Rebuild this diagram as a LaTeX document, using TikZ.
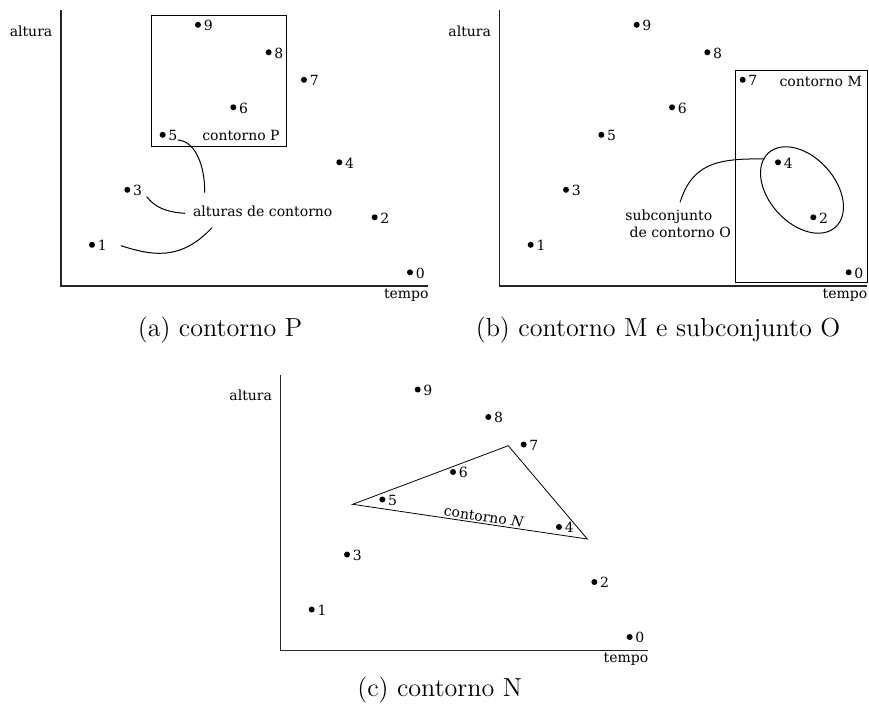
\documentclass[tikz,border=0pt]{standalone}
\usepackage{fontspec}
\newfontfamily\dv{DejaVu Serif}
\newcommand\drawpanel[1]{%
  \draw[axis] (61,10) -- (61,286) -- (428,286);
  \node[txt,anchor=base east] (#1alt) at (52.7,36) {altura};
  \node[txt,anchor=base east] (#1tmp) at (429,298) {tempo};
  \foreach \i/\h in {1/1,2/3,3/5,4/9,5/6,6/8,7/7,8/4,9/2,10/0}{
    \node[dot] (#1p\h) at ({92+(\i-1)*35.33},{272.3-\h*27.5}) {};
    \node[lbl] (#1l\h) at ([xshift=1.0pt,yshift=-0.35pt]#1p\h.east) {\h};
  }%
}
\begin{document}
\begin{tikzpicture}[x=0.5pt,y=-0.5pt,
  dot/.style={circle,fill=black,inner sep=0pt,minimum size=3pt},
  txt/.style={font=\dv\fontsize{7}{8.4}\selectfont,inner sep=0pt},
  lbl/.style={txt,anchor=west},
  captxt/.style={font=\fontsize{13.05}{15}\selectfont,inner sep=0pt,anchor=base},
  axis/.style={line width=0.6pt,draw=black!85},
  frame/.style={line width=0.5pt},
  conn/.style={line width=0.5pt}]
\useasboundingbox (0,0) rectangle (869,709);
% ---------- panel (a)
\begin{scope}
  \drawpanel{a}
  \draw[frame] (151.7,15) rectangle (286.7,146.7);
  \node[txt,anchor=base east] (aP) at (280,140) {contorno P};
  \node[txt,anchor=base west] (aalt2) at (192.7,216.7) {alturas de contorno};
  \coordinate (ac1s) at (177.7,140);
  \coordinate (ac1e) at (204.7,192.7);
  \coordinate (ac2s) at (146.7,196.7);
  \coordinate (ac2e) at (185,213.3);
  \coordinate (ac3s) at (121,245.7);
  \coordinate (ac3e) at (212,227.7);
  \draw[conn] (ac1s) .. controls (195,141) and (205,165) .. (ac1e);
  \draw[conn] (ac2s) .. controls (155,207) and (165,212) .. (ac2e);
  \draw[conn] (ac3s) .. controls (150,255) and (180,262) .. (ac3e);
\end{scope}
% ---------- panel (b)
\begin{scope}[shift={(438.7,0)}]
  \drawpanel{b}
  \draw[frame] (296.3,70.7) rectangle (429,282.3);
  \node[txt,anchor=base east] (bM) at (423.6,86) {contorno M};
  \coordinate (bec) at (363.3,190);
  \draw[frame,rotate around={-48:(bec)}] (bec) ellipse [x radius=50, y radius=33];
  \node[txt,anchor=base west] (bO1) at (186.3,220) {subconjunto};
  \node[txt,anchor=base west] (bO2) at (190.6,237.3) {de contorno O};
  \coordinate (bcs) at (241.3,202.3);
  \coordinate (bce) at (325.6,159);
  \draw[conn] (bcs) .. controls (253.3,165) and (276.3,158) .. (bce);
\end{scope}
% ---------- panel (c)
\begin{scope}[shift={(219.7,364.7)}]
  \drawpanel{c}
  \coordinate (cA) at (133,139.6);
  \coordinate (cB) at (288.6,81);
  \coordinate (cC) at (367.6,174.3);
  \draw[line width=0.4pt] (cA) -- (cB) -- (cC) -- cycle;
  \node[txt,rotate=-8.4] (cN) at (264.3,152) {contorno \textit{N}};
\end{scope}
% ---------- captions
\node[captxt] (capa) at (220,336) {(a) contorno P};
\node[captxt] (capb) at (658,336) {(b) contorno M e subconjunto O};
\node[captxt] (capc) at (439.7,696) {(c) contorno N};
\end{tikzpicture}
\end{document}
